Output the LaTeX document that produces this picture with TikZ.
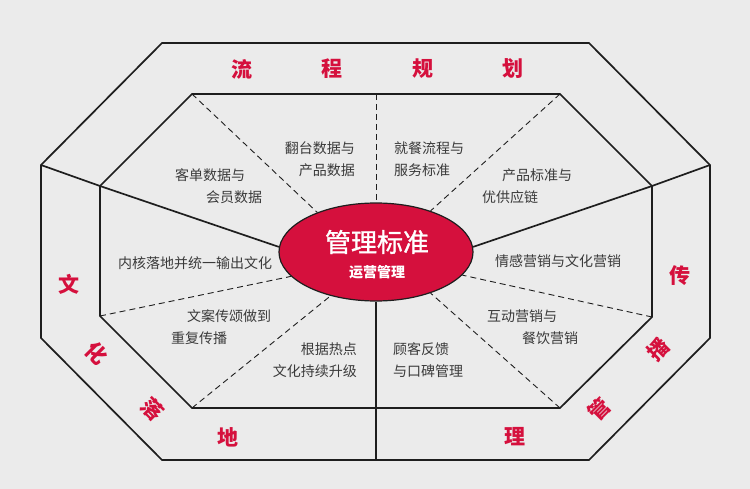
\documentclass[tikz,border=0pt]{standalone}
\usepackage{fontspec}
\setmainfont{Noto Sans CJK SC}
\newfontfamily\titlefont{Noto Sans CJK SC}[FakeBold=1.2]
\usetikzlibrary{shapes.geometric}
\definecolor{bg}{HTML}{EBEBEB}
\definecolor{brandred}{HTML}{D5103D}
\definecolor{txtgray}{HTML}{3A3A3A}
\definecolor{linegray}{HTML}{1E1E1E}
\begin{document}
\begin{tikzpicture}[x=1pt,y=-1pt,
    frame/.style={draw=linegray,line width=1.7pt,line join=miter},
    divide/.style={draw=linegray,line width=1.7pt},
    split/.style={draw=linegray,line width=0.9pt,dash pattern=on 6pt off 4pt},
    band/.style={text=brandred,font=\fontsize{21}{21}\selectfont\bfseries,inner sep=0pt},
    note/.style={text=txtgray,font=\fontsize{14}{22}\selectfont,inner sep=0pt},
    core/.style={ellipse,draw=linegray,line width=1.2pt,fill=brandred,
      minimum width=194pt,minimum height=98pt,inner sep=0pt}]
    %background
    \fill[bg] (0,0) rectangle (750,489);
    %outer corners
    \coordinate (oTL) at (162,43);
    \coordinate (oTR) at (589,43);
    \coordinate (oRT) at (710,165);
    \coordinate (oRB) at (710,338);
    \coordinate (oBR) at (589,460);
    \coordinate (oB) at (376,460);
    \coordinate (oBL) at (162,460);
    \coordinate (oLB) at (41,338);
    \coordinate (oLT) at (41,165);
    %inner corners
    \coordinate (iTL) at (192,94);
    \coordinate (iT) at (376,94);
    \coordinate (iTR) at (560,94);
    \coordinate (iRT) at (652,186);
    \coordinate (iRB) at (652,317);
    \coordinate (iBR) at (560,408);
    \coordinate (iB) at (376,408);
    \coordinate (iBL) at (192,408);
    \coordinate (iLB) at (100,316);
    \coordinate (iLT) at (100,186);
    %frames
    \draw[frame] (oTL) -- (oTR) -- (oRT) -- (oRB) -- (oBR) -- (oBL) -- (oLB) -- (oLT) -- cycle;
    \draw[frame] (iTL) -- (iTR) -- (iRT) -- (iRB) -- (iBR) -- (iBL) -- (iLB) -- (iLT) -- cycle;
    %centre
    \node[core] (std) at (376,252) {};
    \node[text=white,font=\fontsize{26}{26}\titlefont,inner sep=0pt] (stdtitle) at (377,242) {管理标准};
    \node[text=white,font=\fontsize{14}{14}\selectfont\bfseries,inner sep=0pt] (stdsub) at (377,272) {运营管理};
    %solid dividers
    \draw[divide] (oLT) -- (iLT) -- (std.177);
    \draw[divide] (oRT) -- (iRT) -- (std.3);
    \draw[divide] (oB) -- (iB) -- (std.south);
    %dashed dividers
    \draw[split] (iTL) -- (std.146);
    \draw[split] (iT) -- (std.north);
    \draw[split] (iTR) -- (std.37);
    \draw[split] (iRB) -- (std.345);
    \draw[split] (iBR) -- (std.323);
    \draw[split] (iBL) -- (std.224);
    \draw[split] (iLB) -- (std.196);
    %band labels
    \foreach \ch/\x in {流/242,程/332,规/423,划/513}
      \node[band] (plan\x) at (\x,69) {\ch};
    \node[band] (cult1) at (69,284) {文};
    \node[band,rotate=-45] (cult2) at (97,353) {化};
    \node[band,rotate=-45] (cult3) at (153,409) {落};
    \node[band] (cult4) at (228,437) {地};
    \node[band] (spread1) at (680,276) {传};
    \node[band,rotate=45] (spread2) at (658,349) {播};
    \node[band,rotate=45] (spread3) at (599,409) {管};
    \node[band] (spread4) at (515,437) {理};
    %sector notes
    \node[note,align=right,anchor=east] (turnover) at (355,159) {翻台数据与\\产品数据};
    \node[note,align=left,anchor=west] (service) at (394,159) {就餐流程与\\服务标准};
    \node[note,align=left,anchor=west] (member) at (175,186) {客单数据与\\\hspace*{31pt}会员数据};
    \node[note,align=left,anchor=west] (supply) at (482,186) {\hspace*{20pt}产品标准与\\优供应链};
    \node[note,anchor=west] (core) at (118,263) {内核落地并统一输出文化};
    \node[note,anchor=west] (emotion) at (495,261) {情感营销与文化营销};
    \node[note,align=left,anchor=west] (copy) at (171,327) {\hspace*{16pt}文案传颂做到\\重复传播};
    \node[note,align=right,anchor=east] (hotspot) at (357,360) {根据热点\\文化持续升级};
    \node[note,align=left,anchor=west] (interact) at (487,327) {互动营销与\\\hspace*{35pt}餐饮营销};
    \node[note,align=left,anchor=west] (feedback) at (393,360) {顾客反馈\\与口碑管理};
\end{tikzpicture}
\end{document}
